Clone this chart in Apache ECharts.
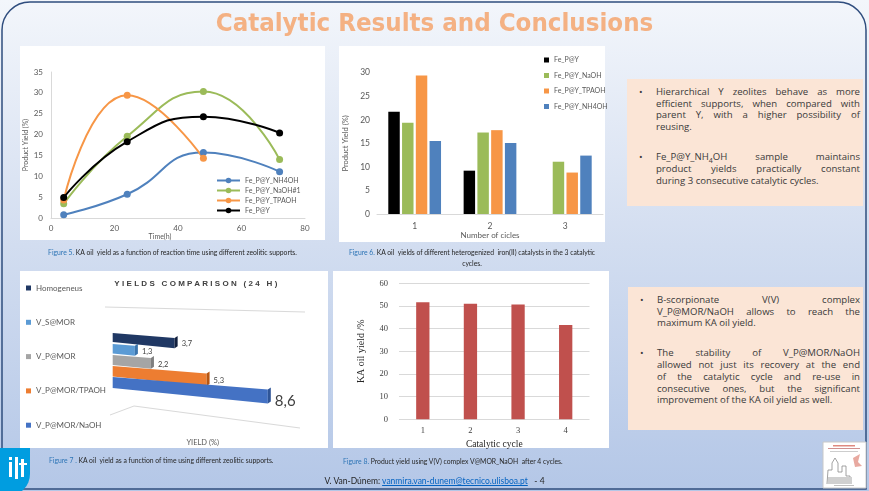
<!DOCTYPE html>
<html>
<head>
<meta charset="utf-8">
<script src="https://cdn.jsdelivr.net/npm/echarts/dist/echarts.min.js"></script>
<style>
html, body { margin: 0; padding: 0; }
#slide { position: relative; width: 869px; height: 491px; overflow: hidden; font-family: Lato, "Liberation Sans", sans-serif; }
#main { position: absolute; left: 0; top: 0; width: 869px; height: 491px; }
.ov { position: absolute; pointer-events: none; }
#title { left: 0; top: 6px; width: 869px; text-align: center; font-size: 25.6px; line-height: 32px; font-weight: bold; color: #f4b183;
  font-family: "Liberation Sans Narrow", "DejaVu Sans Condensed", Lato, sans-serif; }
#yc { left: 20px; top: 279px; width: 354px; text-align: center; font-size: 8px; line-height: 10px; font-weight: bold;
  letter-spacing: 2.3px; color: #404040; font-family: "Liberation Sans", sans-serif; }
.cap { font-size: 6.8px; line-height: 9px; color: #262626; white-space: nowrap; }
.cap b { font-weight: normal; color: #2e75b6; }
.box { background: #fbe5d6; color: #3a3a3a; font-family: "Open Sans", Lato, sans-serif; font-weight: 400;
  font-size: 9.6px; line-height: 11.7px; box-sizing: border-box; padding: 7px 3px 0 29px; }
.para { position: relative; }
.para + .para { margin-top: 18.3px; }
.para:before { content: "\2022"; position: absolute; left: -17px; top: 0; }
.ln { text-align: justify; text-align-last: justify; }
.ln.end { text-align-last: left; }
#foot { left: 0; top: 476px; width: 869px; text-align: center; font-size: 8.5px; line-height: 11px; color: #262626; }
#foot span { color: #0563c1; text-decoration: underline; }
</style>
</head>
<body>
<div id="slide">
  <div id="main"></div>
  <div class="ov" id="title">Catalytic Results and Conclusions</div>
  <div class="ov" id="yc">YIELDS COMPARISON (24 H)</div>

  <div class="ov cap" style="left:20px;width:305px;top:247.5px;text-align:center;"><b>Figure 5.</b> KA oil&nbsp; yield as a function of reaction time using different zeolitic supports.</div>
  <div class="ov cap" style="left:339px;width:266px;top:246.5px;line-height:11px;text-align:center;"><b>Figure 6.</b> KA oil&nbsp; yields of different heterogenized&nbsp; iron(II) catalysts in the 3 catalytic<br>cycles.</div>
  <div class="ov cap" style="left:49px;top:455.5px;"><b>Figure 7 .</b> KA oil&nbsp; yield as a function of time using different zeolitic supports.</div>
  <div class="ov cap" style="left:343px;top:456.5px;"><b>Figure 8.</b> Product yield using V(V) complex V@MOR_NaOH&nbsp; after 4 cycles.</div>

  <div class="ov box" style="left:627px;top:79px;width:236px;height:127px;">
    <div class="para">
      <div class="ln">Hierarchical Y zeolites behave as more</div>
      <div class="ln">efficient supports, when compared with</div>
      <div class="ln">parent Y, with a higher possibility of</div>
      <div class="ln end">reusing.</div>
    </div>
    <div class="para">
      <div class="ln">Fe_P@Y_NH<sub style="font-size:7px;line-height:0;">4</sub>OH sample maintains</div>
      <div class="ln">product yields practically constant</div>
      <div class="ln end">during 3 consecutive catalytic cycles.</div>
    </div>
  </div>

  <div class="ov box" style="left:628px;top:287px;width:235px;height:143px;">
    <div class="para">
      <div class="ln">B-scorpionate V(V) complex</div>
      <div class="ln">V_P@MOR/NaOH allows to reach the</div>
      <div class="ln end">maximum KA oil yield.</div>
    </div>
    <div class="para">
      <div class="ln">The stability of V_P@MOR/NaOH</div>
      <div class="ln">allowed not just its recovery at the end</div>
      <div class="ln">of the catalytic cycle and re-use in</div>
      <div class="ln">consecutive ones, but the significant</div>
      <div class="ln end">improvement of the KA oil yield as well.</div>
    </div>
  </div>

  <div class="ov" id="foot">V. Van-Dúnem: <span>vanmira.van-dunem@tecnico.ulisboa.pt</span>&nbsp;&nbsp; - 4</div>
</div>
<script>
// Figure 5: yield vs time
var hours = [4, 24, 48, 72];
var lineNH4OH = [0.8, 5.7, 15.7, 11.1];
var lineNaOH1 = [3.4, 19.6, 30.3, 14.0];
var lineTPAOH = [4.3, 29.4, 14.3];
var lineFeP = [4.9, 18.3, 24.3, 20.4];

// Figure 6: yield per cycle
var cycles = ['1', '2', '3'];
var barFeP = [21.7, 9.2, 0];
var barNaOH = [19.4, 17.3, 11.1];
var barTPAOH = [29.4, 17.8, 8.8];
var barNH4OH = [15.5, 15.1, 12.4];

// Figure 7: yields comparison (24 h)
var supports = ['Homogeneus', 'V_S@MOR', 'V_P@MOR', 'V_P@MOR/TPAOH', 'V_P@MOR/NaOH'];
var supportYield = [3.7, 1.3, 2.2, 5.3, 8.6];

// Figure 8: V@MOR_NaOH reuse
var reuseCycles = ['1', '2', '3', '4'];
var reuseYield = [51.6, 51.0, 50.7, 41.6];

var dom = document.getElementById('main');
var myChart = echarts.init(dom, null, { renderer: 'canvas' });

var gray = '#595959';
var font = 'Lato';
var serif = 'Liberation Serif';

function pairs(ys) {
  return ys.map(function (y, i) { return [hours[i], y]; });
}

function lineSeries(name, ys, color) {
  return {
    name: name, type: 'line', xAxisIndex: 0, yAxisIndex: 0,
    data: pairs(ys), smooth: true, symbol: 'circle', symbolSize: 7,
    lineStyle: { width: 2, color: color }, itemStyle: { color: color }
  };
}

function barSeries(name, ys, color) {
  return {
    name: name, type: 'bar', xAxisIndex: 1, yAxisIndex: 1,
    data: ys, barCategoryGap: '30%', barGap: '20%',
    itemStyle: { color: color }
  };
}

var faceColors = ['#203864', '#5b9bd5', '#a5a5a5', '#ed7d31', '#4472c4'];
var capColors = ['#111f3d', '#3a74ad', '#7f7f7f', '#b85510', '#2f5597'];

function bar3d(i) {
  return {
    name: supports[i], type: 'custom', xAxisIndex: 2, yAxisIndex: 2,
    itemStyle: { color: faceColors[i] },
    data: [[supportYield[i], i]],
    renderItem: function (params, api) {
      var idx = api.value(1);
      var p0 = api.coord([0, idx]);
      var p1 = api.coord([api.value(0), idx]);
      var x0 = p0[0], y0 = p0[1];
      var len = (p1[0] - x0) * (0.93 + 0.018 * idx);
      var x1 = x0 + len;
      var h = 9 + idx * 0.5;
      var yt = y0 + 0.08 * len, yb = y0 + 0.10 * len + h;
      var big = idx === supports.length - 1;
      return {
        type: 'group',
        children: [
          { type: 'polygon', shape: { points: [[x0, y0], [x1, yt], [x1, yb], [x0, y0 + h]] },
            style: { fill: faceColors[i] } },
          { type: 'polygon', shape: { points: [[x1, yt], [x1 + 3, yt - 2], [x1 + 3, yb - 2], [x1, yb]] },
            style: { fill: capColors[i] } },
          { type: 'text', x: x1 + 7, y: y0 + 0.09 * len + h / 2 + (big ? 5 : 1),
            style: { text: String(api.value(0)).replace('.', ','), fill: '#404040',
              fontSize: big ? 15 : 7.5, fontFamily: font, verticalAlign: 'middle', align: 'left' } }
        ]
      };
    }
  };
}

var option = {
  animation: false,
  graphic: [
    { type: 'rect', shape: { x: 0, y: 0, width: 869, height: 491 },
      style: { fill: new echarts.graphic.LinearGradient(0, 0, 0, 1, [
        { offset: 0, color: '#f3f6fb' }, { offset: 0.5, color: '#d2ddf0' }, { offset: 1, color: '#b4c7e7' }]) } },
    { type: 'rect', shape: { x: 2, y: 2, width: 864, height: 487, r: [28, 28, 0, 0] },
      style: { fill: 'none', stroke: '#2f4d7e', lineWidth: 1.5 } },
    { type: 'rect', shape: { x: 20, y: 46, width: 305, height: 194 }, style: { fill: '#fff' } },
    { type: 'rect', shape: { x: 339, y: 46, width: 266, height: 196 }, style: { fill: '#fff' } },
    { type: 'rect', shape: { x: 20, y: 271, width: 308, height: 177 }, style: { fill: '#fff' } },
    { type: 'rect', shape: { x: 333, y: 271, width: 276, height: 177 }, style: { fill: '#fff' } },
    { type: 'polyline', shape: { points: [[105, 307], [305, 312]] }, style: { stroke: '#d9d9d9', lineWidth: 1 } },
    { type: 'polyline', shape: { points: [[110, 415], [134, 406], [300, 428]] }, style: { stroke: '#d9d9d9', lineWidth: 1 } },
    // IST logo
    { type: 'rect', shape: { x: -2, y: 448, width: 32, height: 48, r: [0, 0, 22, 0] }, style: { fill: '#009de0' } },
    { type: 'rect', shape: { x: 9, y: 457, width: 3, height: 3 }, style: { fill: '#fff' } },
    { type: 'rect', shape: { x: 9, y: 462, width: 3, height: 15 }, style: { fill: '#fff' } },
    { type: 'rect', shape: { x: 15, y: 457, width: 3, height: 22 }, style: { fill: '#fff' } },
    { type: 'rect', shape: { x: 21, y: 459, width: 3, height: 18 }, style: { fill: '#fff' } },
    { type: 'rect', shape: { x: 19, y: 463, width: 8, height: 2 }, style: { fill: '#fff' } },
    // poster thumbnail
    { type: 'rect', shape: { x: 823, y: 442, width: 43, height: 46 }, style: { fill: '#fff', stroke: '#c8c8c8', lineWidth: 1 } },
    { type: 'rect', shape: { x: 833, y: 445, width: 22, height: 1.5 }, style: { fill: '#e08a80' } },
    { type: 'rect', shape: { x: 828, y: 448, width: 32, height: 1 }, style: { fill: '#d09090' } },
    { type: 'rect', shape: { x: 830, y: 451, width: 28, height: 0.8 }, style: { fill: '#c0c0c0' } },
    { type: 'polyline', shape: { points: [[827, 484], [828, 470], [832, 470], [832, 463], [835, 458], [838, 463], [838, 472], [842, 472], [842, 466], [846, 466], [846, 476], [850, 476], [850, 484]] },
      style: { stroke: '#8a8a8a', lineWidth: 0.8, fill: 'none' } },
    { type: 'rect', shape: { x: 828, y: 477, width: 24, height: 7 }, style: { fill: '#d0d0d0' } },
    { type: 'polygon', shape: { points: [[853, 458], [860, 454], [858, 462], [862, 466], [855, 467]] }, style: { fill: '#e8a9a0' } },
    { type: 'rect', shape: { x: 834, y: 485, width: 20, height: 1 }, style: { fill: '#c0c0c0' } }
  ],
  legend: [
    { data: ['Fe_P@Y_NH4OH', 'Fe_P@Y_NaOH#1', 'Fe_P@Y_TPAOH', 'Fe_P@Y'], orient: 'vertical',
      left: 216, top: 176.5, padding: 0, itemWidth: 23, itemHeight: 7, itemGap: 2, selectedMode: false,
      textStyle: { fontSize: 7, lineHeight: 8, color: gray, fontFamily: font } },
    { data: ['Fe_P@Y', 'Fe_P@Y_NaOH', 'Fe_P@Y_TPAOH', 'Fe_P@Y_NH4OH'], orient: 'vertical', icon: 'rect',
      left: 544, top: 55.5, padding: 0, itemWidth: 5, itemHeight: 5, itemGap: 6.5, selectedMode: false,
      textStyle: { fontSize: 7, lineHeight: 9, color: gray, fontFamily: font } },
    { data: supports, orient: 'vertical', icon: 'rect',
      left: 26, top: 283, padding: 0, itemWidth: 5, itemHeight: 5, itemGap: 24.3, selectedMode: false,
      textStyle: { fontSize: 8, lineHeight: 10, color: gray, fontFamily: font } }
  ],
  grid: [
    { left: 51, top: 72, width: 254, height: 146 },
    { left: 377, top: 72.7, width: 226, height: 141.3 },
    { left: 112.7, top: 327.5, width: 180, height: 55 },
    { left: 399, top: 283.3, width: 190.5, height: 136 }
  ],
  xAxis: [
    { gridIndex: 0, type: 'value', min: 0, max: 80, interval: 20,
      axisLine: { show: true, lineStyle: { color: '#d9d9d9' } }, axisTick: { show: false }, splitLine: { show: false },
      axisLabel: { fontSize: 8, color: gray, fontFamily: font, margin: 6 },
      name: 'Time(h)', nameLocation: 'middle', nameGap: 15,
      nameTextStyle: { fontSize: 7, color: gray, fontFamily: font, padding: [0, 36, 0, 0] } },
    { gridIndex: 1, type: 'category', data: cycles,
      axisLine: { lineStyle: { color: '#d9d9d9' } }, axisTick: { show: false },
      axisLabel: { fontSize: 8.5, color: gray, fontFamily: font, margin: 8 },
      name: 'Number of cicles', nameLocation: 'middle', nameGap: 17,
      nameTextStyle: { fontSize: 8, color: gray, fontFamily: font } },
    { gridIndex: 2, type: 'value', min: 0, max: 10,
      axisLine: { show: false }, axisTick: { show: false }, axisLabel: { show: false }, splitLine: { show: false },
      name: 'YIELD (%)', nameLocation: 'middle', nameGap: 56,
      nameTextStyle: { fontSize: 7.5, color: gray, fontFamily: font } },
    { gridIndex: 3, type: 'category', data: reuseCycles,
      axisLine: { show: false }, axisTick: { show: false },
      axisLabel: { fontSize: 8.5, color: '#404040', fontFamily: serif, margin: 7 },
      name: 'Catalytic cycle', nameLocation: 'middle', nameGap: 20,
      nameTextStyle: { fontSize: 9.5, color: '#262626', fontFamily: serif } }
  ],
  yAxis: [
    { gridIndex: 0, type: 'value', min: 0, max: 35, interval: 5,
      axisLine: { show: true, lineStyle: { color: '#d9d9d9' } }, axisTick: { show: false }, splitLine: { show: false },
      axisLabel: { fontSize: 8, color: gray, fontFamily: font, margin: 8 },
      name: 'Product Yield (%)', nameLocation: 'middle', nameGap: 22,
      nameTextStyle: { fontSize: 7, color: gray, fontFamily: font } },
    { gridIndex: 1, type: 'value', min: 0, max: 30, interval: 5,
      axisLine: { show: false }, axisTick: { show: false }, splitLine: { show: false },
      axisLabel: { fontSize: 8.5, color: gray, fontFamily: font, margin: 7 },
      name: 'Product Yield (%)', nameLocation: 'middle', nameGap: 27,
      nameTextStyle: { fontSize: 7.5, color: gray, fontFamily: font } },
    { gridIndex: 2, type: 'category', data: supports, inverse: true, show: false },
    { gridIndex: 3, type: 'value', min: 0, max: 60, interval: 10,
      axisLine: { show: false }, axisTick: { show: false },
      splitLine: { lineStyle: { color: '#d9d9d9' } },
      axisLabel: { fontSize: 8.5, color: '#404040', fontFamily: serif, margin: 11 },
      name: 'KA oil yield /%', nameLocation: 'middle', nameGap: 33,
      nameTextStyle: { fontSize: 10, color: '#262626', fontFamily: serif } }
  ],
  series: [
    lineSeries('Fe_P@Y_NH4OH', lineNH4OH, '#4f81bd'),
    lineSeries('Fe_P@Y_NaOH#1', lineNaOH1, '#9bbb59'),
    lineSeries('Fe_P@Y_TPAOH', lineTPAOH, '#f79646'),
    lineSeries('Fe_P@Y', lineFeP, '#000000'),
    barSeries('Fe_P@Y', barFeP, '#000000'),
    barSeries('Fe_P@Y_NaOH', barNaOH, '#9bbb59'),
    barSeries('Fe_P@Y_TPAOH', barTPAOH, '#f79646'),
    barSeries('Fe_P@Y_NH4OH', barNH4OH, '#4f81bd'),
    bar3d(0), bar3d(1), bar3d(2), bar3d(3), bar3d(4),
    { name: 'KA oil yield', type: 'bar', xAxisIndex: 3, yAxisIndex: 3, data: reuseYield,
      barWidth: 13.3, itemStyle: { color: '#c0504d' } }
  ]
};

if (option && typeof option === 'object') {
  myChart.setOption(option);
}

window.addEventListener('resize', myChart.resize);
</script>
</body>
</html>
